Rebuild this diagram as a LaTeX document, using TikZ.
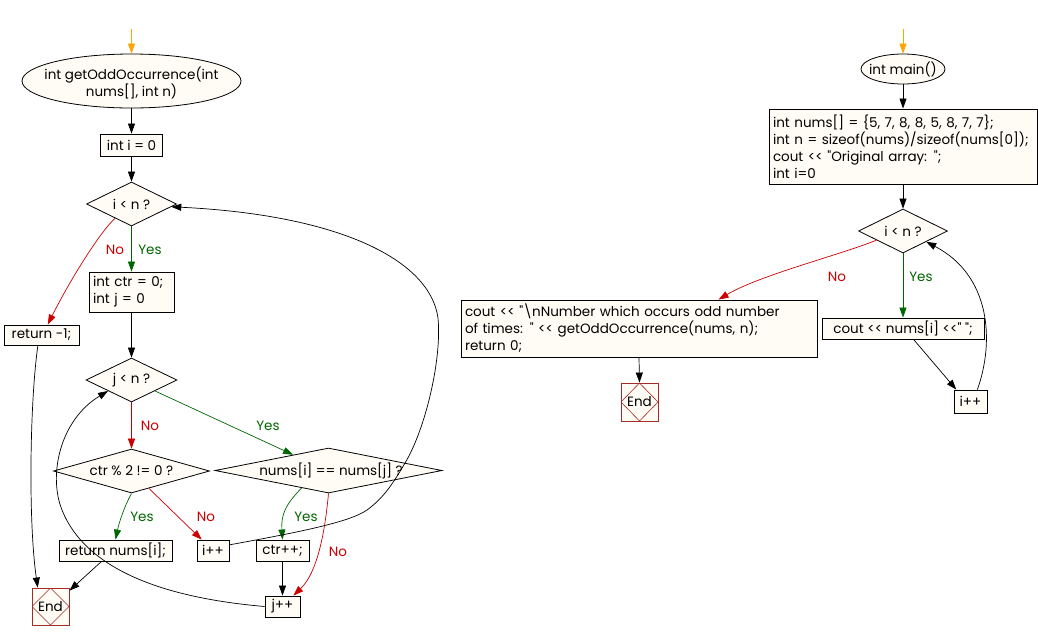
\documentclass[tikz,border=0pt]{standalone}
\usepackage{fontspec}
\newfontfamily\pf{Poppins}
\usetikzlibrary{shapes.geometric,arrows.meta}
\definecolor{boxfill}{RGB}{255,252,245}
\definecolor{nored}{RGB}{204,0,0}
\definecolor{yesgreen}{RGB}{0,102,0}
\definecolor{endred}{RGB}{165,42,42}
\definecolor{startor}{RGB}{255,165,0}
\begin{document}
\begin{tikzpicture}[x=1pt,y=-1pt,
  font=\pf\fontsize{13.5}{17}\selectfont,
  proc/.style={rectangle, draw=black, line width=0.9pt, fill=boxfill, inner sep=0pt, minimum height=21pt},
  dec/.style={diamond, draw=black, line width=0.8pt, fill=boxfill, inner sep=0pt},
  term/.style={ellipse, draw=black, line width=0.8pt, fill=boxfill, inner sep=0pt},
  txt/.style={inner sep=0pt},
  endbox/.style={rectangle, draw=endred, line width=0.9pt, fill=boxfill, inner sep=0pt,
    minimum width=37pt, minimum height=37pt,
    path picture={\draw[endred, line width=0.6pt] (path picture bounding box.north) -- (path picture bounding box.east) -- (path picture bounding box.south) -- (path picture bounding box.west) -- cycle;}},
  conn/.style={draw=black, line width=0.7pt, -{Triangle[length=10pt,width=7pt]}},
  yesc/.style={conn, draw=yesgreen},
  noc/.style={conn, draw=nored},
  startc/.style={conn, draw=startor},
  yeslab/.style={text=yesgreen, inner sep=0pt},
  nolab/.style={text=nored, inner sep=0pt}
]
\useasboundingbox (0,0) rectangle (1038,641);
\fill[white] (0,0) rectangle (1038,641);

% ---------- left chart ----------
\coordinate (s1) at (131.5,29);
\node[term, minimum width=219pt, minimum height=54pt] (e1) at (131.5,81) {};
\node[txt, align=center] (e1t) at (131.5,82.5) {int getOddOccurrence(int\\nums[], int n)};
\node[proc, minimum width=62pt, minimum height=22pt] (b1) at (131.5,145) {int i = 0};
\node[dec, minimum width=90pt, minimum height=44pt] (d1) at (131.5,204) {};
\node[txt] (d1t) at (131.5,204) {i < n ?};
\node[proc, minimum width=85pt, minimum height=40pt, text width=77pt, align=left] (b2) at (131.5,292) {int ctr = 0;\\int j = 0};
\node[proc, minimum width=75pt, minimum height=20pt] (r1) at (41.5,335) {return -1;};
\node[dec, minimum width=91pt, minimum height=44pt] (d3) at (131.5,380) {};
\node[txt] (d3t) at (131.5,380) {j < n ?};
\node[dec, minimum width=156pt, minimum height=44pt] (d4) at (131.5,471) {};
\node[txt] (d4t) at (131.5,471) {ctr \% 2 != 0 ?};
\node[dec, minimum width=227pt, minimum height=45pt] (d5) at (328.5,470.5) {};
\node[txt] (d5t) at (331,470.5) {nums[i] == nums[j] ?};
\node[proc, minimum width=113pt] (r2) at (115.5,550.5) {return nums[i];};
\node[proc, minimum width=32pt] (i1) at (213,550.5) {i++};
\node[proc, minimum width=53pt] (c1) at (282.5,550.5) {ctr++;};
\node[proc, minimum width=35pt] (j2) at (282.5,606.5) {j++};
\node[endbox] (end1) at (50.5,606.5) {End};

\draw[startc] (s1) -- (e1.north);
\draw[conn] (e1.south) -- (b1.north);
\draw[conn] (b1.south) -- (d1.north);
\draw[noc] (d1.221) .. controls (100,232) and (70,280) .. (r1.59);
\draw[yesc] (d1.south) -- (b2.north);
\draw[conn] (b2.south) -- (d3.north);
\draw[noc] (d3.south) -- (d4.north);
\draw[yesc] (d3.-25) -- (d5.156);
\draw[yesc] (d4.south) .. controls (124,507) and (119,523) .. (r2.north);
\draw[noc] (d4.-45) -- (i1.136);
\draw[yesc] (d5.213) .. controls (285,505) and (281,515) .. (c1.north);
\draw[noc] (d5.south) .. controls (326,520) and (320,570) .. (j2.45);
\draw[conn] (c1.south) -- (j2.north);
\draw[conn] (i1.19) .. controls (300,532) and (350,522) .. (367,510)
  .. controls (385,497) and (395,480) .. (405,463)
  .. controls (425,430) and (442,360) .. (438,318)
  .. controls (430,260) and (340,215) .. (d1.-4);
\draw[conn] (j2.west) .. controls (190,600) and (90,580) .. (62,510)
  .. controls (48,475) and (60,420) .. (d3.205);
\draw[conn] (r1.251) .. controls (30,400) and (28,520) .. (end1.124);
\draw[conn] (r2.218) -- (end1.40);

\node[nolab] (l1) at (115,250) {No};
\node[yeslab] (l2) at (150,250) {Yes};
\node[nolab] (l3) at (150,426) {No};
\node[yeslab] (l4) at (268,426) {Yes};
\node[yeslab] (l5) at (142,517) {Yes};
\node[nolab] (l6) at (206,517) {No};
\node[yeslab] (l7) at (306,517) {Yes};
\node[nolab] (l8) at (338,552) {No};

% ---------- right chart ----------
\coordinate (s2) at (903,29);
\node[term, minimum width=84pt, minimum height=30pt] (m0) at (903,69) {};
\node[txt] (m0t) at (903,69) {int main()};
\node[proc, minimum width=268pt, minimum height=75pt, text width=260pt, align=left] (m1) at (903,146.5)
  {int nums[] = \{5, 7, 8, 8, 5, 8, 7, 7\};\\int n = sizeof(nums)/sizeof(nums[0]);\\cout << "Original array: ";\\int i=0};
\node[dec, minimum width=89pt, minimum height=44pt] (d2) at (903,231) {};
\node[txt] (d2t) at (903,231) {i < n ?};
\node[proc, minimum width=162pt] (p1) at (903,328.5) {cout << nums[i] <<" ";};
\node[proc, minimum width=33pt, minimum height=23pt] (i2) at (970.5,401.5) {i++};
\node[proc, minimum width=356pt, minimum height=57pt, text width=348pt, align=left] (m2) at (639,328.5)
  {cout << "\textbackslash nNumber which occurs odd number\\of times: " << getOddOccurrence(nums, n);\\return 0;};
\node[endbox, minimum height=38pt] (end2) at (639.5,402) {End};

\draw[startc] (s2) -- (m0.north);
\draw[conn] (m0.south) -- (m1.north);
\draw[conn] (m1.south) -- (d2.north);
\draw[yesc] (d2.south) -- (p1.north);
\draw[noc] (d2.199) .. controls (840,255) and (760,275) .. (m2.20);
\draw[conn] (m2.south) -- (end2.north);
\draw[conn] (p1.-46) -- (i2.140);
\draw[conn] (i2.60) .. controls (995,340) and (990,275) .. (d2.-25);

\node[nolab] (l9) at (837,277) {No};
\node[yeslab] (l10) at (921,277) {Yes};
\end{tikzpicture}
\end{document}
